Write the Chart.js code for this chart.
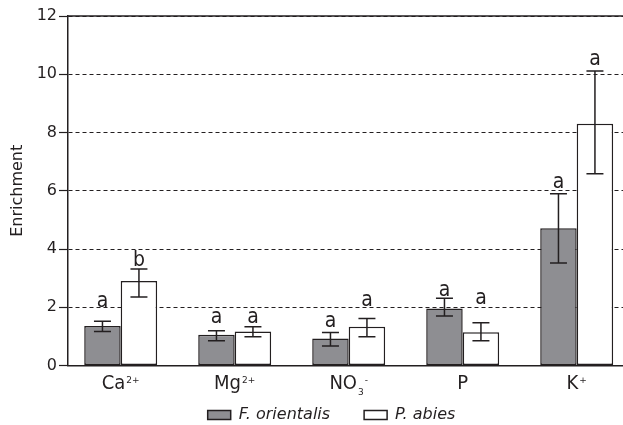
<!DOCTYPE html>
<html><head><meta charset="utf-8">
<script src="https://cdn.jsdelivr.net/npm/chart.js@4/dist/chart.umd.min.js"></script>
<style>html,body{margin:0;padding:0;overflow:hidden;background:#fff}
#wrap{width:663px;height:425px;position:relative}</style>
</head><body><div id="wrap"><canvas id="c"></canvas></div>
<script>
const categories = ['Ca²⁺', 'Mg²⁺', 'NO₃⁻', 'P', 'K⁺'];
const fOrientalis = [1.36, 1.06, 0.93, 1.96, 4.71];
const fOrientalisUpper = [1.52, 1.19, 1.13, 2.31, 5.90];
const fOrientalisLower = [1.17, 0.85, 0.67, 1.70, 3.52];
const pAbies = [2.90, 1.17, 1.33, 1.14, 8.30];
const pAbiesUpper = [3.31, 1.33, 1.61, 1.47, 10.11];
const pAbiesLower = [2.35, 0.99, 0.99, 0.85, 6.58];
const fOrientalisLetters = ['a', 'a', 'a', 'a', 'a'];
const pAbiesLetters = ['b', 'a', 'a', 'a', 'a'];
const fOrientalisLetterAt = [2.02, 1.45, 1.33, 2.40, 6.08];
const pAbiesLetterAt = [3.42, 1.45, 2.04, 2.10, 10.32];
const yTicks = [0, 2, 4, 6, 8, 10, 12];

const INK = '#231f20';
const NARROW = '"Liberation Sans Narrow", "DejaVu Sans Condensed", sans-serif';
const SUP = {'²': '2', '³': '3', '⁺': '+', '⁻': '-'};
const SUB = {'₂': '2', '₃': '3', '₄': '4'};

function splitLabel(text) {
  const segs = [];
  for (const ch of text) {
    const kind = SUP[ch] ? 'sup' : (SUB[ch] ? 'sub' : 'base');
    const c = SUP[ch] || SUB[ch] || ch;
    const last = segs[segs.length - 1];
    if (last && last.kind === kind) last.text += c; else segs.push({kind, text: c});
  }
  return segs;
}

const categoryLabels = {
  id: 'categoryLabels',
  afterDraw(chart) {
    const ctx = chart.ctx, xs = chart.scales.x, a = chart.chartArea;
    const baseY = a.bottom + 23.5;
    ctx.save();
    ctx.fillStyle = INK;
    ctx.textBaseline = 'alphabetic';
    ctx.textAlign = 'left';
    const fonts = {base: '20px ' + NARROW, sup: '9px "DejaVu Sans", sans-serif', sub: '9px "DejaVu Sans", sans-serif'};
    const shift = {base: 0, sup: -6, sub: 5.5};
    categories.forEach((lab, i) => {
      const segs = splitLabel(lab);
      let total = 0;
      segs.forEach(s => { ctx.font = fonts[s.kind]; s.w = ctx.measureText(s.text).width + (s.kind !== 'base' ? 1 : 0); total += s.w; });
      let x = xs.getPixelForValue(i) - total / 2;
      segs.forEach(s => {
        ctx.font = fonts[s.kind];
        ctx.fillText(s.text, x + (s.kind !== 'base' ? 1 : 0), baseY + shift[s.kind]);
        x += s.w;
      });
    });
    ctx.restore();
  }
};

const errorBars = {
  id: 'errorBars',
  afterDatasetsDraw(chart) {
    const ctx = chart.ctx, ys = chart.scales.y;
    ctx.save();
    chart.data.datasets.forEach((ds, di) => {
      const meta = chart.getDatasetMeta(di);
      meta.data.forEach((bar, i) => {
        const x = bar.x;
        const yt = ys.getPixelForValue(ds.upper[i]);
        const yb = ys.getPixelForValue(ds.lower[i]);
        const hw = 8.5;
        ctx.strokeStyle = INK;
        ctx.lineWidth = 1.5;
        ctx.beginPath();
        ctx.moveTo(x, yt); ctx.lineTo(x, yb);
        ctx.moveTo(x - hw, yt); ctx.lineTo(x + hw, yt);
        ctx.moveTo(x - hw, yb); ctx.lineTo(x + hw, yb);
        ctx.stroke();
        ctx.fillStyle = INK;
        ctx.font = '21px ' + NARROW;
        ctx.textAlign = 'center';
        ctx.textBaseline = 'alphabetic';
        ctx.fillText(ds.letters[i], x, ys.getPixelForValue(ds.letterAt[i]));
      });
    });
    ctx.restore();
  }
};

const topFrame = {
  id: 'topFrame',
  beforeDatasetsDraw(chart) {
    const ctx = chart.ctx, ys = chart.scales.y, a = chart.chartArea;
    const y = ys.getPixelForValue(yTicks[yTicks.length - 1]);
    ctx.save();
    ctx.strokeStyle = INK;
    ctx.lineWidth = 1.5;
    ctx.beginPath();
    ctx.moveTo(a.left, y); ctx.lineTo(a.right, y);
    ctx.stroke();
    ctx.restore();
  }
};

new Chart(document.getElementById('c'), {
  type: 'bar',
  data: {
    datasets: [
      {
        label: 'F. orientalis',
        data: fOrientalis.map((v, i) => ({x: i, y: v})),
        upper: fOrientalisUpper, lower: fOrientalisLower,
        letters: fOrientalisLetters, letterAt: fOrientalisLetterAt,
        backgroundColor: '#8e8e92', borderColor: INK, borderWidth: 1.5, borderSkipped: false
      },
      {
        label: 'P. abies',
        data: pAbies.map((v, i) => ({x: i, y: v})),
        upper: pAbiesUpper, lower: pAbiesLower,
        letters: pAbiesLetters, letterAt: pAbiesLetterAt,
        backgroundColor: '#ffffff', borderColor: INK, borderWidth: 1.5, borderSkipped: false
      }
    ]
  },
  options: {
    responsive: true,
    maintainAspectRatio: false,
    animation: false,
    categoryPercentage: 0.64,
    barPercentage: 1.0,
    layout: {padding: {top: 16, left: 0, right: 0, bottom: 0}},
    scales: {
      x: {
        type: 'linear',
        offset: false,
        min: -0.4623,
        max: 4.757,
        afterBuildTicks: s => { s.ticks = categories.map((_, i) => ({value: i})); },
        afterFit: s => { s.height = 7.5; },
        grid: {display: false, drawTicks: false},
        border: {display: true, color: INK, width: 1.5},
        ticks: {display: false}
      },
      y: {
        min: 0, max: 12,
        afterBuildTicks: s => { s.ticks = yTicks.map(v => ({value: v})); },
        afterFit: s => { s.width = 68; },
        grid: {color: INK, lineWidth: 1, tickLength: 9, tickColor: INK, tickWidth: 1.2},
        border: {display: true, color: INK, width: 1.5, dash: [4, 3]},
        ticks: {padding: 2, color: INK, font: {family: '"DejaVu Sans", sans-serif', size: 16}},
        title: {
          display: true, text: 'Enrichment', color: INK,
          font: {family: '"DejaVu Sans", sans-serif', size: 16},
          padding: {top: 8, bottom: 0}
        }
      }
    },
    plugins: {
      legend: {
        position: 'bottom',
        maxHeight: 52,
        labels: {
          boxWidth: 23, boxHeight: 9, padding: 34, color: INK,
          font: {family: '"DejaVu Sans", sans-serif', size: 16, style: 'italic'}
        }
      },
      tooltip: {enabled: false}
    }
  },
  plugins: [errorBars, topFrame, categoryLabels]
});
</script>
</body></html>
